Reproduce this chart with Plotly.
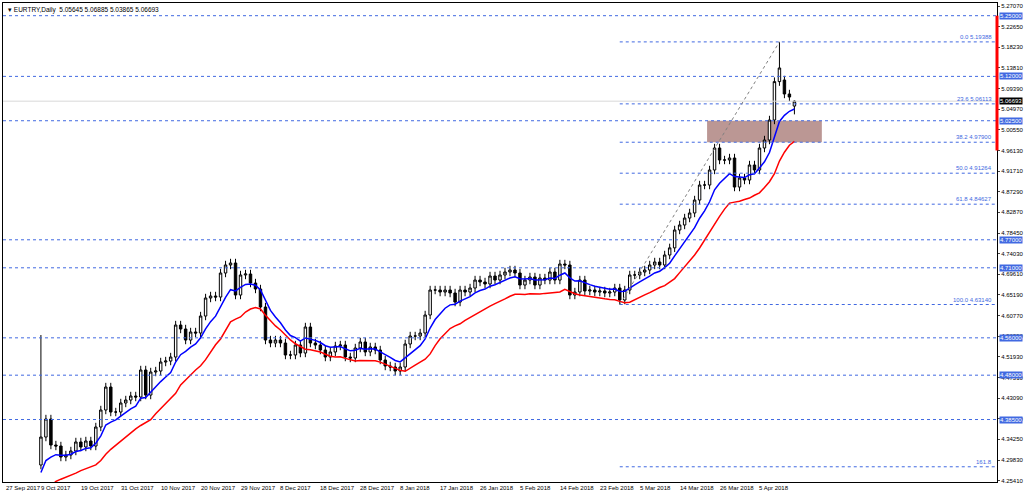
import plotly.graph_objects as go
import numpy as np

closes = [4.3475,4.3861,4.3304,4.3283,4.3047,4.3090,4.3176,4.3369,4.3262,4.3390,4.3283,4.3690,4.4054,4.4546,4.4011,4.4011,4.4204,4.4268,4.4354,4.4332,4.4911,4.4375,4.4868,4.4889,4.5082,4.5103,4.5189,4.5874,4.5789,4.5553,4.5725,4.5703,4.6067,4.6453,4.6496,4.6474,4.6988,4.7160,4.7203,4.6517,4.6946,4.6967,4.6774,4.6646,4.6260,4.5553,4.5489,4.5553,4.5489,4.5232,4.5232,4.5446,4.5275,4.5832,4.5489,4.5446,4.5339,4.5189,4.5297,4.5425,4.5446,4.5189,4.5168,4.5382,4.5511,4.5297,4.5404,4.5339,4.5125,4.4997,4.4975,4.4889,4.4975,4.5468,4.5639,4.5639,4.5703,4.6089,4.6624,4.6624,4.6581,4.6624,4.6560,4.6367,4.6624,4.6581,4.6667,4.6838,4.6796,4.6753,4.6924,4.6838,4.6946,4.7010,4.7053,4.6988,4.6731,4.6838,4.6903,4.6731,4.6881,4.6838,4.7010,4.6838,4.7181,4.7160,4.6517,4.6581,4.6838,4.6603,4.6624,4.6581,4.6603,4.6560,4.6581,4.6667,4.6410,4.6624,4.6946,4.6946,4.7010,4.7053,4.7160,4.7224,4.7160,4.7374,4.7527,4.7910,4.8017,4.8166,4.8274,4.8552,4.8873,4.8873,4.9195,4.9666,4.9409,4.9409,4.9452,4.8830,4.9023,4.8980,4.9302,4.9195,4.9666,4.9837,5.0266,5.1088,5.1380,5.0823,5.0758,5.06693]
first_open = 4.2876
last_open = 5.05645
top_bar_high = 5.19388
drop_bar_open = 5.1122
swing_low = 4.6314
first_bar_high = 4.5660
last_high, last_low = 5.06885, 5.03865
wick = 0.009
blue_seed = 4.250
red_seed = 4.215

levels = [5.25000, 5.12000, 5.02500, 4.77000, 4.71000, 4.56000, 4.48000, 4.38500]
fib_names = ["0.0", "23.6", "38.2", "50.0", "61.8", "100.0", "161.8"]
fib_vals = [5.19388, 5.06113, 4.97900, 4.91264, 4.84627, 4.63140, 4.28380]
ytick_vals = [5.27070,5.22650,5.18230,5.13810,5.09390,5.04970,5.00550,4.96130,4.91710,4.87290,4.82870,4.78450,4.74030,4.69610,4.65190,4.60770,4.56350,4.51930,4.47510,4.43090,4.38670,4.34250,4.29830,4.25410]
date_labels = ["27 Sep 2017","9 Oct 2017","19 Oct 2017","31 Oct 2017","10 Nov 2017","20 Nov 2017","29 Nov 2017","8 Dec 2017","18 Dec 2017","28 Dec 2017","8 Jan 2018","17 Jan 2018","26 Jan 2018","5 Feb 2018","14 Feb 2018","23 Feb 2018","5 Mar 2018","14 Mar 2018","26 Mar 2018","5 Apr 2018"]
date_pos = [-7.5] + [-0.4 + 8*k for k in range(19)]

n = len(closes)
x = list(range(n))
opens = [first_open] + closes[:-1]
opens[-1] = last_open
top_i = n - 4
opens[top_i + 1] = drop_bar_open
low_i = closes.index(4.6410)
highs, lows = [], []
for i in range(n):
    highs.append(max(opens[i], closes[i]) + wick)
    lows.append(min(opens[i], closes[i]) - wick)
highs[0] = first_bar_high
highs[top_i] = top_bar_high
lows[low_i] = swing_low
highs[-1], lows[-1] = last_high, last_low

def ema(a, p, seed):
    out = []
    prev = seed
    k = 2/(p+1)
    for v in a:
        prev = prev + k*(v-prev)
        out.append(prev)
    return np.array(out)
blue = ema(closes, 8, blue_seed)
red = ema(lows, 12, red_seed) - 0.012

FAM = "Liberation Sans, Arial, sans-serif"
FS = 6
fig = go.Figure()
for lv in levels:
    fig.add_hline(y=lv, line=dict(color="#4169e1", width=1, dash="dot"))
fig.add_hline(y=closes[-1], line=dict(color="#d8d8d8", width=1))
for fv in fib_vals:
    fig.add_shape(type="line", x0=low_i, x1=200, xref="x", y0=fv, y1=fv, line=dict(color="#4169e1", width=1, dash="dot"))
fig.add_shape(type="rect", x0=133.5, x1=156.5, y0=4.979, y1=5.025, fillcolor="rgba(150,95,90,0.65)", line=dict(width=0), layer="below")
fig.add_shape(type="line", x0=low_i, x1=top_i, y0=swing_low, y1=top_bar_high, line=dict(color="#808080", width=1, dash="dot"))

fig.add_trace(go.Candlestick(x=x, open=opens, high=highs, low=lows, close=closes,
    increasing=dict(line=dict(color="black", width=1), fillcolor="white"),
    decreasing=dict(line=dict(color="black", width=1), fillcolor="black"),
    whiskerwidth=0, showlegend=False))
fig.add_trace(go.Scatter(x=x, y=blue, mode="lines", line=dict(color="#0000ff", width=1.5), showlegend=False))
fig.add_trace(go.Scatter(x=x, y=red, mode="lines", line=dict(color="#ff0000", width=1.5), showlegend=False))

fig.add_shape(type="line", xref="paper", x0=1, x1=1, y0=4.9613, y1=5.25, line=dict(color="red", width=3))

ann = []
for nm, fv in zip(fib_names, fib_vals):
    txt = nm if nm == "161.8" else f"{nm} {fv:.5f}"
    ann.append(dict(xref="paper", x=0.997, y=fv, text=txt, xanchor="right", yanchor="bottom", showarrow=False, font=dict(size=FS, color="#4169e1", family=FAM)))
for lv in levels:
    ann.append(dict(xref="paper", x=1.002, y=lv, text=f"{lv:.5f}", xanchor="left", yanchor="middle", showarrow=False, bgcolor="#4169e1", font=dict(size=FS, color="white", family=FAM), borderpad=0))
ann.append(dict(xref="paper", x=1.002, y=closes[-1], text=f"{closes[-1]:.5f}", xanchor="left", yanchor="middle", showarrow=False, bgcolor="black", font=dict(size=FS, color="white", family=FAM), borderpad=0))
for lab, p in zip(date_labels, date_pos):
    ann.append(dict(x=p, yref="paper", y=-0.003, text=lab, xanchor="left", yanchor="top", showarrow=False, font=dict(size=FS, color="black", family=FAM)))
ann.append(dict(xref="paper", yref="paper", x=0.003, y=0.998, text="▾ EURTRY,Daily  5.05645 5.06885 5.03865 5.06693", xanchor="left", yanchor="top", showarrow=False, font=dict(size=FS+0.5, color="black", family=FAM)))

fig.update_layout(width=1024, height=493, margin=dict(l=3, r=27, t=3, b=11),
    paper_bgcolor="white", plot_bgcolor="white", annotations=ann,
    xaxis=dict(range=[-7.6, 191.6], showticklabels=False, showgrid=False, zeroline=False, rangeslider=dict(visible=False),
               showline=True, linecolor="black", mirror=True, ticks="", automargin=False),
    yaxis=dict(range=[4.2512, 5.2772], side="right", tickvals=ytick_vals, ticktext=[f"{v:.5f}" for v in ytick_vals],
               tickfont=dict(size=FS, color="black", family=FAM), ticks="outside", ticklen=2, automargin=False,
               showgrid=False, zeroline=False, showline=True, linecolor="black", mirror=True))
fig.write_html("out.html", config={"displayModeBar": False},
               post_script="document.body.style.margin='0';document.body.style.overflow='hidden';")
